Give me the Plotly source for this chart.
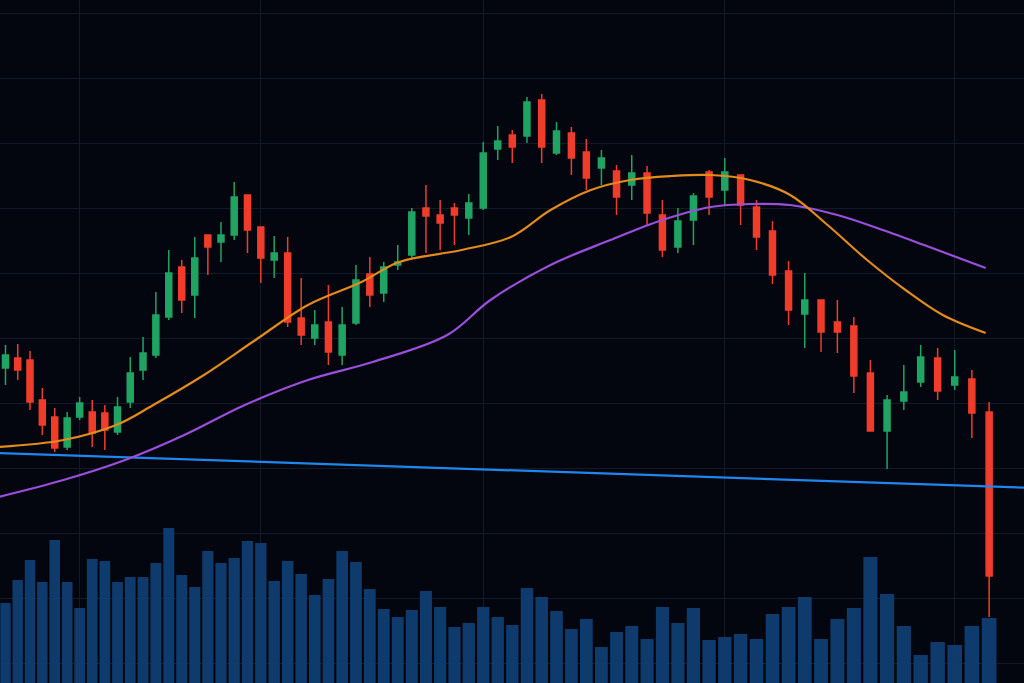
import math
import plotly.graph_objects as go

# candle data (arbitrary price units)
opens = [315, 325, 323, 283, 266, 236, 266, 271, 270, 251,
         281, 313, 328, 366, 416, 388, 448, 441, 448, 488,
         456, 423, 430, 365, 345, 361, 328, 360, 409, 390,
         418, 428, 475, 468, 475, 465, 475, 534, 548, 547,
         583, 530, 550, 531, 515, 512, 498, 510, 468, 436,
         463, 511, 493, 508, 476, 452, 412, 369, 383, 361,
         357, 310, 252, 282, 301, 325, 298, 304, 271]
closes = [328, 313, 281, 258, 235, 265, 280, 250, 253, 276,
          310, 330, 368, 410, 383, 425, 436, 448, 486, 453,
          425, 430, 361, 348, 358, 331, 358, 403, 388, 416,
          421, 471, 467, 460, 468, 480, 530, 542, 536, 581,
          536, 552, 525, 505, 525, 486, 510, 470, 433, 462,
          487, 486, 511, 478, 446, 408, 373, 383, 351, 351,
          307, 252, 283, 291, 326, 292, 306, 270, 107]
highs = [338, 339, 332, 295, 275, 271, 286, 283, 278, 286,
         326, 346, 391, 433, 423, 446, 448, 461, 501, 488,
         456, 447, 446, 405, 373, 398, 376, 418, 426, 421,
         438, 475, 498, 483, 480, 489, 541, 557, 553, 586,
         589, 561, 556, 544, 533, 518, 528, 517, 483, 475,
         490, 513, 525, 508, 483, 462, 422, 410, 383, 383,
         366, 323, 288, 318, 338, 335, 333, 313, 281]
lows = [298, 303, 273, 248, 231, 233, 263, 236, 233, 248,
        275, 303, 325, 363, 370, 365, 408, 421, 443, 430,
        400, 405, 356, 338, 338, 318, 318, 358, 376, 381,
        413, 425, 430, 433, 438, 448, 473, 523, 520, 540,
        520, 528, 508, 493, 498, 468, 483, 458, 426, 430,
        438, 468, 478, 458, 433, 399, 358, 335, 331, 330,
        290, 252, 214, 273, 296, 283, 293, 245, 66]
volumes = [80, 103, 123, 101, 143, 101, 75, 124, 122, 101,
           106, 106, 120, 155, 108, 96, 132, 120, 125, 142,
           140, 102, 122, 109, 88, 104, 132, 121, 94, 74,
           66, 73, 92, 76, 56, 60, 76, 66, 58, 95,
           86, 72, 54, 64, 36, 51, 57, 44, 76, 60,
           75, 43, 46, 49, 44, 69, 76, 86, 44, 64,
           75, 126, 89, 57, 28, 41, 38, 57, 65]

# moving averages, sparse points (candle index, value)
ma_fast_idx = [-0.6, 4.7, 8.9, 11.8, 15.7, 19.6, 23.5, 27.4, 30.1, 34.5, 37.9,
               40.6, 43.3, 45.9, 48.6, 51.1, 53.6, 56.1, 58.4, 60.8, 63.1, 65.3, 67.8]
ma_fast = [236, 243, 258, 278, 308, 343, 378, 401, 421, 433, 446,
           473, 493, 503, 507, 508, 503, 488, 458, 423, 393, 368, 350]
ma_slow_idx = [-0.6, 4.7, 9.6, 14.2, 18.8, 23.5, 28.2, 33.5, 36.5, 40.6,
               44.6, 48.0, 51.1, 53.6, 56.1, 59.0, 61.4, 64.2, 67.8]
ma_slow = [186, 203, 223, 248, 278, 303, 321, 348, 383, 418,
           443, 463, 476, 479, 478, 468, 455, 438, 415]
level_idx = [-0.6, 70.6]
level = [230, 195]

# the photo is in perspective: candles widen to the right.
# a reversed log axis over (HORIZON - index) reproduces that spacing.
HORIZON = 230


def persp(idx):
    return [HORIZON - i for i in idx]


x = persp(range(len(opens)))

fig = go.Figure()

fig.add_trace(go.Bar(
    x=x, y=volumes, yaxis="y2",
    marker=dict(color="#0f3d72", line=dict(width=0)),
    width=0.85, opacity=0.95, showlegend=False,
))
fig.add_trace(go.Scatter(
    x=persp(level_idx), y=level, mode="lines",
    line=dict(color="#1f86ee", width=2.2), showlegend=False,
))
fig.add_trace(go.Scatter(
    x=persp(ma_slow_idx), y=ma_slow, mode="lines",
    line=dict(color="#9a4fdc", width=2.2, shape="spline"), showlegend=False,
))
fig.add_trace(go.Scatter(
    x=persp(ma_fast_idx), y=ma_fast, mode="lines",
    line=dict(color="#e38a1c", width=2.2, shape="spline"), showlegend=False,
))
fig.add_trace(go.Candlestick(
    x=x, open=opens, high=highs, low=lows, close=closes,
    increasing=dict(line=dict(color="#1fa463", width=1.5), fillcolor="#1fa463"),
    decreasing=dict(line=dict(color="#f03c2a", width=1.5), fillcolor="#f03c2a"),
    whiskerwidth=0, showlegend=False,
))

fig.update_layout(
    width=1024, height=683,
    margin=dict(l=0, r=0, t=0, b=0),
    paper_bgcolor="#03060f", plot_bgcolor="#03060f",
    showlegend=False, bargap=0.1,
    xaxis=dict(type="log",
               range=[math.log10(HORIZON + 0.45), math.log10(HORIZON - 70.0)],
               rangeslider=dict(visible=False),
               showticklabels=False, zeroline=False,
               showgrid=True, gridcolor="#101a2a", gridwidth=1,
               tickvals=persp([6, 20, 36, 52, 66])),
    yaxis=dict(range=[0, 683], showticklabels=False, zeroline=False,
               showgrid=True, gridcolor="#101a2a", tick0=20, dtick=65),
    yaxis2=dict(range=[0, 683], overlaying="y", visible=False),
)

# drop the page's default body margin so the figure fills the window
fig.write_html(
    "out.html",
    config=dict(displayModeBar=False),
    post_script="document.body.style.margin='0';document.body.style.background='#03060f';",
)
